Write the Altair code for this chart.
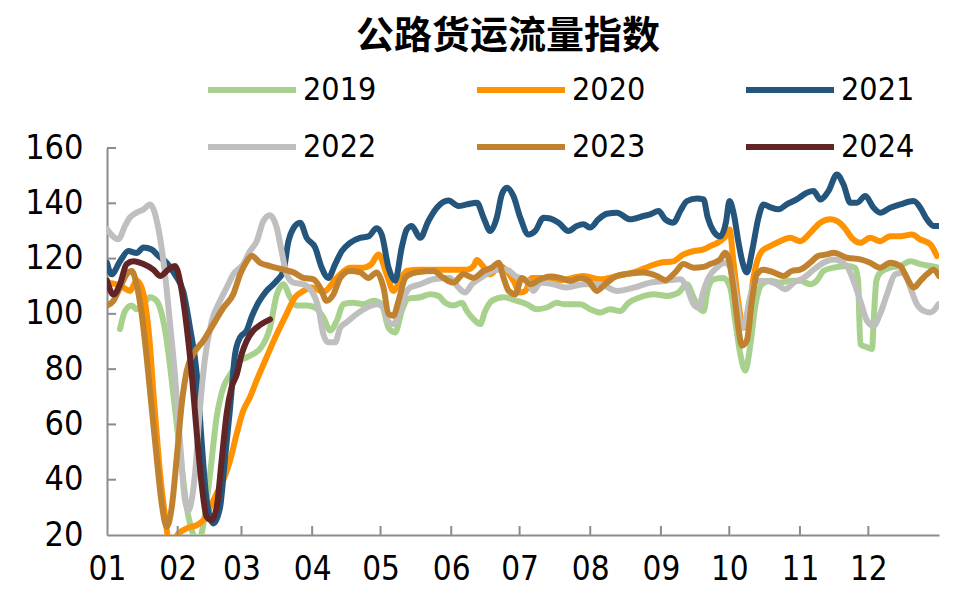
import altair as alt
import pandas as pd

years = ["2019", "2020", "2021", "2022", "2023", "2024"]
colors = ["#A9D18E", "#FF9200", "#24557D", "#BFBFBF", "#C0822F", "#622424"]

month_starts = [0, 31, 59, 90, 120, 151, 181, 212, 243, 273, 304, 334]
month_labels = ["01", "02", "03", "04", "05", "06", "07", "08", "09", "10", "11", "12"]
y_ticks = [20, 40, 60, 80, 100, 120, 140, 160]

# (day of year, index value)
y2019 = [
    (5.7, 94.5), (7.9, 101), (10.8, 103), (13, 101.7), (16, 103.5), (18.9, 106), (21.8, 104.7),
    (24, 100), (26.2, 90.3), (28.4, 76), (30.6, 60), (32.8, 44.6), (35, 30), (37.2, 21.8),
    (38.6, 19), (40.8, 19), (42.3, 24), (45.2, 42), (48.1, 62.6), (51.1, 73.5), (54, 78),
    (58.4, 83), (61.3, 84.3), (64.2, 85.5), (67.1, 87.3), (71.5, 95), (74.5, 107), (77.4, 110.7),
    (80.3, 106), (83.2, 103), (87.6, 103), (91.3, 102.3), (94.9, 98.7), (97.9, 94), (100.8, 97.5),
    (103.7, 103.5), (108.1, 104), (112.5, 103.5), (116.9, 104.7), (120.5, 103.5), (123.5, 95),
    (126.4, 93.3), (129.3, 101), (132.2, 105.5), (137.4, 106), (141.8, 107.1), (145.4, 106.5),
    (148.4, 104), (152, 103), (155.7, 104), (157.9, 101), (160.8, 98.1), (163.7, 96.3),
    (165.9, 101), (168.8, 104.7), (174, 106), (179.8, 104.7), (184.2, 103.5), (188.6, 101.7),
    (193, 102.3), (197.4, 104), (200.3, 103.5), (207.6, 103.5), (212, 101.7), (216.3, 100.5),
    (220.7, 101.7), (225.1, 101), (228.8, 104), (233.9, 106), (239.8, 107.1), (245.6, 106.5),
    (250.7, 107.7), (254.4, 110.7), (257.3, 106), (259.5, 102.3), (261.7, 101), (263.6, 109),
    (266.1, 112.5), (270.4, 113), (273.4, 109.5), (275.6, 97.5), (277.8, 85.5), (280, 79.5),
    (282.1, 87.9), (284.3, 102.3), (287.3, 110.7), (290.9, 112), (295.3, 111.3), (299.7, 112),
    (304.1, 112), (308.5, 110.7), (311.4, 112), (314.3, 115.5), (318.7, 116.7), (324.6, 117.3),
    (328.2, 116.7), (329.5, 112), (330.5, 89), (333.4, 87.9), (335.6, 87.3), (336.5, 100),
    (337.5, 111.9), (339.2, 114.9), (343.6, 116.7), (348, 117.3), (352.4, 119), (356.8, 118),
    (361.2, 117.3), (365, 116.7),
]
y2020 = [
    (0, 111.3), (4.2, 110.7), (7.2, 109.5), (10.1, 108.3), (13, 112), (15.2, 109.5), (17.4, 100),
    (18.9, 88), (20.3, 72), (21.8, 56.6), (23.3, 42), (25.5, 26.6), (26.9, 19), (29.1, 18),
    (31.3, 20.5), (35, 22.4), (39.4, 23.6), (42.3, 25.4), (45.2, 30), (48.1, 35), (51.1, 40),
    (54, 47), (56.9, 56.6), (59.8, 65), (62.8, 70), (65.7, 76), (70, 84.3), (74.5, 92.7),
    (78.8, 100), (82.5, 106), (86.2, 108.3), (89.8, 109.5), (94.9, 108), (100.8, 113),
    (106.6, 116.7), (112.5, 116.7), (116, 118), (119.1, 121.5), (122.7, 114.3), (125.7, 108.3),
    (128.6, 112), (131.5, 115.5), (137.4, 116), (143.2, 116), (150.5, 116), (157.9, 116),
    (160.8, 117.3), (162.3, 119.5), (164.4, 117.8), (168.1, 114.3), (172.5, 117.3), (175.4, 115.5),
    (178.3, 112), (181.3, 107.7), (183.5, 108.3), (186.4, 113), (191.5, 113), (195.9, 112),
    (201.7, 112.5), (209, 113.7), (216.3, 112.5), (223.7, 113.7), (231, 115), (238.3, 117.3),
    (242.7, 118.5), (248.5, 119), (252.9, 121.5), (257.3, 122.7), (261.7, 123.3), (264.6, 124.5),
    (269, 126.3), (271.9, 128.7), (273.1, 130.5), (274.8, 119), (277, 104), (279.3, 95),
    (281.5, 100), (283.6, 113), (287.3, 122.7), (290.9, 124.5), (295.3, 126.3), (299.7, 127.5),
    (304.1, 126.3), (308.5, 129.3), (312.9, 133), (317.3, 134.2), (320.2, 133.6), (324.6, 130),
    (326.1, 128.1), (330.5, 125.7), (334.8, 127.5), (339.2, 126.3), (343.6, 128.1), (348, 128.1),
    (353.1, 128.7), (356.8, 126.9), (361.2, 125.1), (364.1, 120.9),
]
y2021 = [
    (0, 118.5), (2, 114.3), (5.7, 119), (9.4, 122.7), (13, 122), (16, 124), (19.6, 123.3),
    (22.5, 121), (26.2, 118.5), (30, 114), (33.5, 108), (36.4, 95), (39.4, 78), (41.5, 54),
    (43.7, 32.6), (46.7, 24.2), (49.6, 30), (51.8, 48), (54, 66), (56.2, 85.5), (58.4, 91.5),
    (61.3, 94), (63.5, 99), (65.7, 103), (70, 108.3), (74.5, 112), (77.4, 115.5), (79.6, 126.3),
    (81.8, 131), (84.7, 133), (87.6, 127.5), (91.3, 124), (94.2, 116.7), (97.1, 113),
    (100.1, 118), (103, 122.7), (106.6, 125.7), (111, 127.5), (114.7, 128), (118.3, 131),
    (120.5, 128.7), (123.5, 116.7), (126.4, 112), (129.3, 124), (131.5, 130.5), (133.7, 131.8),
    (137.4, 127.5), (141, 133.6), (144.7, 138.4), (149.8, 141), (154.2, 139), (157.9, 139.6),
    (162.3, 140.2), (165.2, 134.8), (168.1, 130), (171, 134.8), (173.2, 143.2), (175.4, 145.6),
    (178.3, 142.6), (181.3, 134.8), (184.9, 128.7), (187.9, 130), (191.5, 134.8), (194.4, 134.5),
    (198.1, 133), (202.4, 130), (206.1, 131.8), (209, 132.4), (212, 131.2), (215.6, 134.2),
    (219.3, 136.2), (223.7, 136.6), (229.5, 134.2), (235.4, 135.4), (238.3, 136), (242, 137.2),
    (244.9, 134.2), (248.5, 133), (251.5, 137.2), (254.4, 140.8), (258.8, 141.7), (261.7, 141.4),
    (263.5, 135), (266, 130), (269, 128), (271.5, 133), (273.1, 140.8), (275, 136), (277, 126),
    (279, 118), (280.7, 115), (283, 122.7), (285.8, 134.8), (288, 139.6), (290.9, 138.6),
    (294.6, 137.8), (298.2, 139.6), (302.6, 141.4), (307, 143.8), (310, 144.4), (312.9, 141.4),
    (316.5, 144.4), (320.2, 150.4), (323.1, 146.8), (326.1, 140.2), (329, 140.2), (332.7, 142.6),
    (336.3, 138.4), (339.2, 136.6), (343.6, 138.4), (348, 139.6), (353.9, 140.8), (356.8, 138.4),
    (359.7, 134.2), (362.6, 131.8), (365, 131.8),
]
y2022 = [
    (0, 130.6), (5, 127), (8, 132), (10, 134.8), (13, 136.6), (16, 137.8), (18.9, 139.6),
    (22.5, 131), (25.5, 114), (27.7, 96), (29.8, 78), (32, 54), (34.2, 32.6), (35.7, 29),
    (38.6, 42), (40.8, 66), (43, 84), (46, 97.5), (49.6, 104.7), (52.5, 109.5), (55.4, 114.3),
    (59.8, 118), (62.75, 122.7), (65.7, 126.3), (68.6, 133.6), (71.5, 135.7), (74.5, 131),
    (76.6, 122.7), (78.8, 114.3), (81.8, 111.3), (86.2, 110.7), (89.8, 108.3), (92.7, 102.3),
    (94.9, 92.7), (97.1, 89.7), (100.1, 89.7), (102.3, 95), (105.2, 97), (109.6, 100),
    (114, 102.3), (118.3, 103.5), (121.3, 102.3), (123.5, 97), (125.7, 96.3), (127.9, 100),
    (130.8, 107), (133, 109.5), (137.4, 110.7), (143.2, 112.5), (150.5, 113), (154.2, 109.5),
    (157.1, 107.7), (160.1, 110.7), (165.2, 113.7), (171, 116), (175.4, 116), (179.1, 113.7),
    (184.2, 112), (187.1, 108.3), (190.1, 111.3), (195.9, 110.7), (201.7, 109.5), (209, 110.7),
    (216.3, 110.7), (223.7, 108.3), (231, 109.5), (238.3, 111.3), (245.6, 112), (251.5, 112.5),
    (254.4, 109.5), (257.3, 103.5), (259.5, 102.3), (261.7, 108.3), (263.9, 113), (267.5, 116.7),
    (271.2, 118.5), (273.4, 117), (276.3, 104.7), (278.5, 95), (280, 97), (282.1, 106),
    (285.1, 111.9), (289.5, 111.9), (293.9, 110.7), (297.5, 108.9), (301.2, 111.3), (305.6, 113),
    (310, 116), (314.3, 118.5), (318.7, 119.7), (324.6, 117.3), (327.5, 111.9), (330.5, 104.7),
    (333.4, 97.5), (336.3, 95.7), (339.2, 100), (342.2, 107.1), (345.8, 114.3), (349.5, 115),
    (352.4, 109.5), (355.3, 103.5), (358.3, 101.1), (361.2, 100.5), (364.8, 103.5),
]
y2023 = [
    (0, 103), (2.8, 104.7), (5.7, 109.5), (8.6, 114.3), (10.8, 115.5), (13, 110.7), (15.2, 100),
    (17.4, 84.3), (19.6, 66), (21.8, 48), (24, 31.4), (26.2, 23), (28.4, 30), (30.6, 48),
    (32.8, 67.5), (35, 79.5), (37.9, 85.5), (42.3, 90.3), (46.7, 96.3), (51.1, 102.3),
    (55.4, 107.1), (58.4, 114.3), (61.3, 119), (63.5, 121), (67.1, 118.5), (71.5, 117.3),
    (77.4, 116), (81.8, 115), (86.2, 113), (90.6, 112.5), (93.5, 109.5), (96.4, 104.7),
    (99.3, 107), (102.3, 113), (106.6, 115.5), (111, 115), (114.7, 113), (118.3, 115),
    (121.3, 109.5), (123.5, 100), (125.7, 99.3), (127.9, 104.7), (130.8, 113), (133, 114.3),
    (135.9, 115), (143.2, 115.5), (147.6, 113), (152, 111.3), (156.4, 114.3), (160.8, 113),
    (165.2, 115.5), (168.8, 116.7), (171.8, 118.5), (174, 113), (176.2, 108.3), (179.1, 107.1),
    (182, 113), (185.7, 110.7), (190.1, 112.5), (194.4, 113.5), (198.8, 113), (203.2, 111.9),
    (207.6, 113), (211.2, 112), (214.9, 108.3), (218.5, 110.7), (223.7, 113.7), (229.5, 114.6),
    (235.4, 115), (241.2, 113.7), (244.9, 112.2), (249.3, 115), (252.9, 118), (257.3, 116.7),
    (261.7, 117), (264.6, 118), (269, 119.7), (271.2, 122.1), (272.6, 120.3), (274.8, 109.5),
    (277, 95), (278.5, 88.5), (280.7, 90.3), (282.9, 104.7), (285.1, 114.3), (288, 116),
    (292.4, 115), (296.8, 113.7), (300.4, 115.5), (304.1, 116), (308.5, 118.5), (312.1, 121),
    (315.8, 121.5), (318.8, 122.1), (324.6, 120.3), (330.5, 119.7), (334.8, 118.5),
    (339.2, 116.7), (343.6, 118.5), (348, 117.3), (350.9, 113), (353.9, 109.5), (356.8, 111.9),
    (359.7, 114.3), (362.6, 116), (365, 113.7),
]
y2024 = [
    (0, 112), (2.8, 107), (5.7, 110.7), (8.6, 118), (11.6, 119), (16, 118), (20.3, 116),
    (23.3, 113.7), (26.9, 116), (29.8, 117.3), (32.8, 108.3), (35, 95), (37.2, 78), (39.4, 56.6),
    (41.5, 38.6), (43.7, 26.6), (45.9, 25.4), (48.1, 30), (50.3, 47), (52.5, 64), (54.7, 73.5),
    (56.9, 78), (59.1, 85.5), (61.3, 90.3), (64.2, 94), (67.2, 96), (71.5, 98),
]

series = [y2019, y2020, y2021, y2022, y2023, y2024]
rows = []
for yr, pts in zip(years, series):
    for d, v in pts:
        rows.append({"year": yr, "day": d, "value": v})
df = pd.DataFrame(rows)

xticks_df = pd.DataFrame({"day": month_starts[1:]})
yticks_df = pd.DataFrame({"value": y_ticks[1:]})

NUM_FONT = "Liberation Sans Narrow, Arial Narrow, DejaVu Sans Condensed, sans-serif"
TITLE_FONT = "Liberation Sans, Noto Sans CJK SC, sans-serif"
AXIS_GRAY = "#8c8c8c"

label_expr = "[{}][indexof([{}], datum.value)]".format(
    ",".join("'{}'".format(m) for m in month_labels),
    ",".join(str(m) for m in month_starts),
)

x_enc = alt.X(
    "day:Q",
    scale=alt.Scale(domain=[0, 365], nice=False, zero=False),
    axis=alt.Axis(
        values=month_starts, labelExpr=label_expr, title=None, grid=False, ticks=False,
        domainColor=AXIS_GRAY, domainWidth=2, labelFontSize=33, labelFont=NUM_FONT,
        labelColor="black", labelPadding=18, labelFlush=False, labelOverlap=False,
    ),
)
y_enc = alt.Y(
    "value:Q",
    scale=alt.Scale(domain=[20, 160], nice=False, zero=False),
    axis=alt.Axis(
        values=y_ticks, title=None, grid=False, ticks=False, domainColor=AXIS_GRAY,
        domainWidth=2, labelFontSize=34, labelFont=NUM_FONT, labelColor="black",
        labelPadding=24, labelFlush=False, labelOverlap=False,
    ),
)

lines = alt.Chart(df).mark_line(
    strokeWidth=6, clip=True, strokeCap="round", strokeJoin="round", interpolate="monotone"
).encode(
    x=x_enc,
    y=y_enc,
    color=alt.Color(
        "year:N",
        scale=alt.Scale(domain=years, range=colors),
        legend=alt.Legend(
            title=None, orient="none", legendX=98, legendY=-73, columns=3,
            direction="horizontal",
            symbolType="stroke", symbolSize=7744, symbolStrokeWidth=6, clipHeight=30,
            rowPadding=25, columnPadding=97, labelFontSize=32, labelFont=NUM_FONT,
            labelColor="black", labelOffset=4, gridAlign="all",
        ),
    ),
    detail="year:N",
)

xticks = alt.Chart(xticks_df).mark_rule(color=AXIS_GRAY, strokeWidth=2).encode(
    x="day:Q", y=alt.value(387), y2=alt.value(378)
)
yticks = alt.Chart(yticks_df).mark_rule(color=AXIS_GRAY, strokeWidth=2).encode(
    y="value:Q", x=alt.value(0), x2=alt.value(9)
)

chart = alt.layer(lines, xticks, yticks).properties(
    width=832,
    height=387,
    title=alt.TitleParams(
        "公路货运流量指数", font=TITLE_FONT, fontSize=38, fontWeight="bold",
        color="black", anchor="middle", frame="group", offset=19, dx=-15,
    ),
    autosize=alt.AutoSizeParams(type="none"),
    padding={"left": 99, "top": 140, "right": 15, "bottom": 52},
).configure_view(stroke=None)

chart.save("out.html", embed_options={"renderer": "svg", "actions": False})
